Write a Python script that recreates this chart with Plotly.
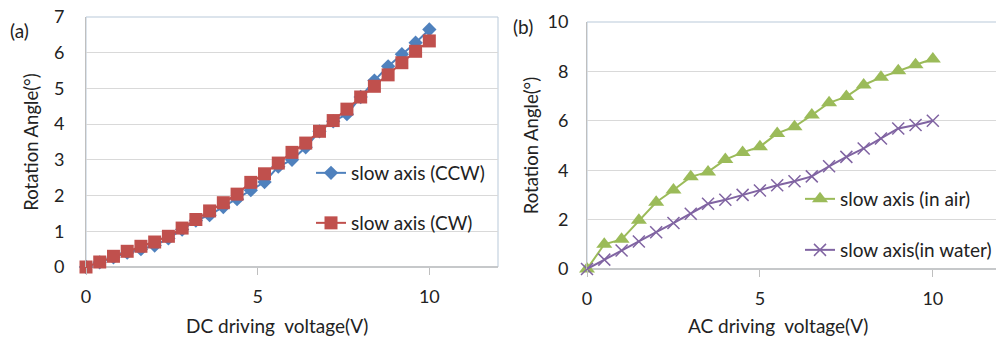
import plotly.graph_objects as go

# ---------------- data ----------------
dc_voltage = [0, 0.4, 0.8, 1.2, 1.6, 2.0, 2.4, 2.8, 3.2, 3.6, 4.0, 4.4, 4.8,
              5.2, 5.6, 6.0, 6.4, 6.8, 7.2, 7.6, 8.0, 8.4, 8.8, 9.2, 9.6, 10.0]
ccw_angle = [0, 0.13, 0.27, 0.40, 0.50, 0.60, 0.80, 1.05, 1.30, 1.45, 1.68, 1.90, 2.15,
             2.38, 2.81, 3.00, 3.35, 3.80, 4.08, 4.28, 4.76, 5.22, 5.62, 5.96, 6.28, 6.65]
cw_angle = [0, 0.14, 0.30, 0.44, 0.58, 0.70, 0.86, 1.09, 1.33, 1.57, 1.80, 2.04, 2.37,
            2.61, 2.91, 3.21, 3.47, 3.80, 4.10, 4.42, 4.76, 5.06, 5.38, 5.72, 6.04, 6.33]

ac_voltage = [0, 0.5, 1.0, 1.5, 2.0, 2.5, 3.0, 3.5, 4.0, 4.5, 5.0,
              5.5, 6.0, 6.5, 7.0, 7.5, 8.0, 8.5, 9.0, 9.5, 10.0]
air_angle = [0, 1.0, 1.2, 1.97, 2.7, 3.2, 3.73, 3.93, 4.43, 4.72, 4.95,
             5.49, 5.76, 6.23, 6.73, 6.98, 7.45, 7.76, 8.03, 8.27, 8.50]
water_angle = [0, 0.38, 0.75, 1.11, 1.49, 1.86, 2.24, 2.64, 2.80, 3.0, 3.18,
               3.39, 3.55, 3.75, 4.16, 4.54, 4.88, 5.28, 5.69, 5.83, 6.0]

x_ticks = [0, 5, 10]
names = ["slow axis (CCW)", "slow axis (CW)", "slow axis (in air)", "slow axis(in water)"]

# ---------------- style ----------------
FONT = "Lato, 'Open Sans', sans-serif"
FS_TICK = 18
FS_TEXT = 19
TXT = "#222"
BLUE, RED, GREEN, PURPLE = "#4f81bd", "#c0504d", "#9bbb59", "#8064a2"
GRID = "#d9d9d9"
AXIS = "#bfbfbf"
BOX = "#b9c9d9"

# the page has an 8px body margin, so the figure is drawn 8px in from the
# top-left corner; size and coordinates are compensated for it
OFF = 8
W, H = 1004 - OFF, 339 - OFF

def px(x):
    return (x - OFF) / W

def py(y):
    return (H - (y - OFF)) / H

fig = go.Figure()

fig.add_trace(go.Scatter(x=dc_voltage, y=ccw_angle, name=names[0], mode="lines+markers",
                         line=dict(color=BLUE, width=2),
                         marker=dict(symbol="diamond", size=11, color=BLUE),
                         xaxis="x", yaxis="y", legend="legend", cliponaxis=False))
fig.add_trace(go.Scatter(x=dc_voltage, y=cw_angle, name=names[1], mode="lines+markers",
                         line=dict(color=RED, width=2),
                         marker=dict(symbol="square", size=13, color=RED),
                         xaxis="x", yaxis="y", legend="legend2", cliponaxis=False))
fig.add_trace(go.Scatter(x=ac_voltage, y=air_angle, name=names[2], mode="lines+markers",
                         line=dict(color=GREEN, width=2),
                         marker=dict(symbol="triangle-up", size=14, color=GREEN),
                         xaxis="x2", yaxis="y2", legend="legend3", cliponaxis=False))
fig.add_trace(go.Scatter(x=ac_voltage, y=water_angle, name=names[3], mode="lines+markers",
                         line=dict(color=PURPLE, width=2),
                         marker=dict(symbol="x-thin", size=12, color=PURPLE,
                                     line=dict(color=PURPLE, width=1.5)),
                         xaxis="x2", yaxis="y2", legend="legend4", cliponaxis=False))

# panel geometry (pixels of the 1004x339 window)
a_l, a_r, a_t, a_b = 86, 498, 17, 267
b_l, b_r, b_t, b_b = 587, 1002, 22, 269

common_x = dict(range=[0, 12], tickvals=x_ticks, showgrid=False, zeroline=False,
                showline=False, ticks="outside", ticklen=7, tickcolor=AXIS, tickwidth=1,
                automargin=False, ticklabeloverflow="allow",
                ticklabelstandoff=6, tickfont=dict(family=FONT, size=FS_TICK, color=TXT))
common_y = dict(showgrid=True, gridcolor=GRID, gridwidth=1, zeroline=False,
                showline=True, linecolor=AXIS, linewidth=1, ticks="",
                automargin=False, ticklabeloverflow="allow",
                tickfont=dict(family=FONT, size=FS_TICK, color=TXT))

def ytitle(standoff):
    return dict(text="Rotation Angle(°)", font=dict(family=FONT, size=18.5, color=TXT),
                standoff=standoff)

fig.update_layout(
    width=W, height=H,
    margin=dict(l=0, r=0, t=0, b=0, autoexpand=False),
    paper_bgcolor="white", plot_bgcolor="white",
    showlegend=True,
    xaxis=dict(domain=[px(a_l), px(a_r)], anchor="y", **common_x),
    yaxis=dict(domain=[py(a_b), py(a_t)], anchor="x", range=[0, 7],
               tickvals=[0, 1, 2, 3, 4, 5, 6, 7],
               ticklabelstandoff=17, title=ytitle(10), **common_y),
    xaxis2=dict(domain=[px(b_l), px(b_r)], anchor="y2", **common_x),
    yaxis2=dict(domain=[py(b_b), py(b_t)], anchor="x2", range=[0, 10],
                tickvals=[0, 2, 4, 6, 8, 10],
                ticklabelstandoff=14, title=ytitle(4), **common_y),
)

leg_common = dict(bgcolor="rgba(0,0,0,0)", borderwidth=0, xanchor="left", yanchor="middle",
                  font=dict(family=FONT, size=FS_TEXT, color=TXT), itemwidth=30)
fig.update_layout(
    legend=dict(x=px(311), y=py(173), **leg_common),
    legend2=dict(x=px(311), y=py(223), **leg_common),
    legend3=dict(x=px(800), y=py(199), **leg_common),
    legend4=dict(x=px(800), y=py(250), **leg_common),
)

# plot-area borders (top/right light blue-gray) and x-axis baseline
for (l, r, t, b) in [(a_l, a_r, a_t, a_b), (b_l, b_r, b_t, b_b)]:
    fig.add_shape(type="rect", xref="paper", yref="paper",
                  x0=px(l), x1=px(r), y0=py(b), y1=py(t),
                  line=dict(color=BOX, width=1), layer="below")
    fig.add_shape(type="line", xref="paper", yref="paper",
                  x0=px(l), x1=px(r), y0=py(b), y1=py(b),
                  line=dict(color=AXIS, width=1.5), layer="below")

# x-axis titles and panel labels
fig.add_annotation(text="DC driving\u00a0 voltage(V)", xref="paper", yref="paper",
                   x=px(277), y=py(325), showarrow=False, xanchor="center", yanchor="middle",
                   font=dict(family=FONT, size=FS_TEXT, color=TXT))
fig.add_annotation(text="AC driving\u00a0 voltage(V)", xref="paper", yref="paper",
                   x=px(778), y=py(325), showarrow=False, xanchor="center", yanchor="middle",
                   font=dict(family=FONT, size=FS_TEXT, color=TXT))
fig.add_annotation(text="(a)", xref="paper", yref="paper", x=px(8), y=py(31),
                   showarrow=False, xanchor="left", yanchor="middle",
                   font=dict(family=FONT, size=FS_TEXT, color=TXT))
fig.add_annotation(text="(b)", xref="paper", yref="paper", x=px(511), y=py(27),
                   showarrow=False, xanchor="left", yanchor="middle",
                   font=dict(family=FONT, size=FS_TEXT, color=TXT))

fig.write_html("out.html")
